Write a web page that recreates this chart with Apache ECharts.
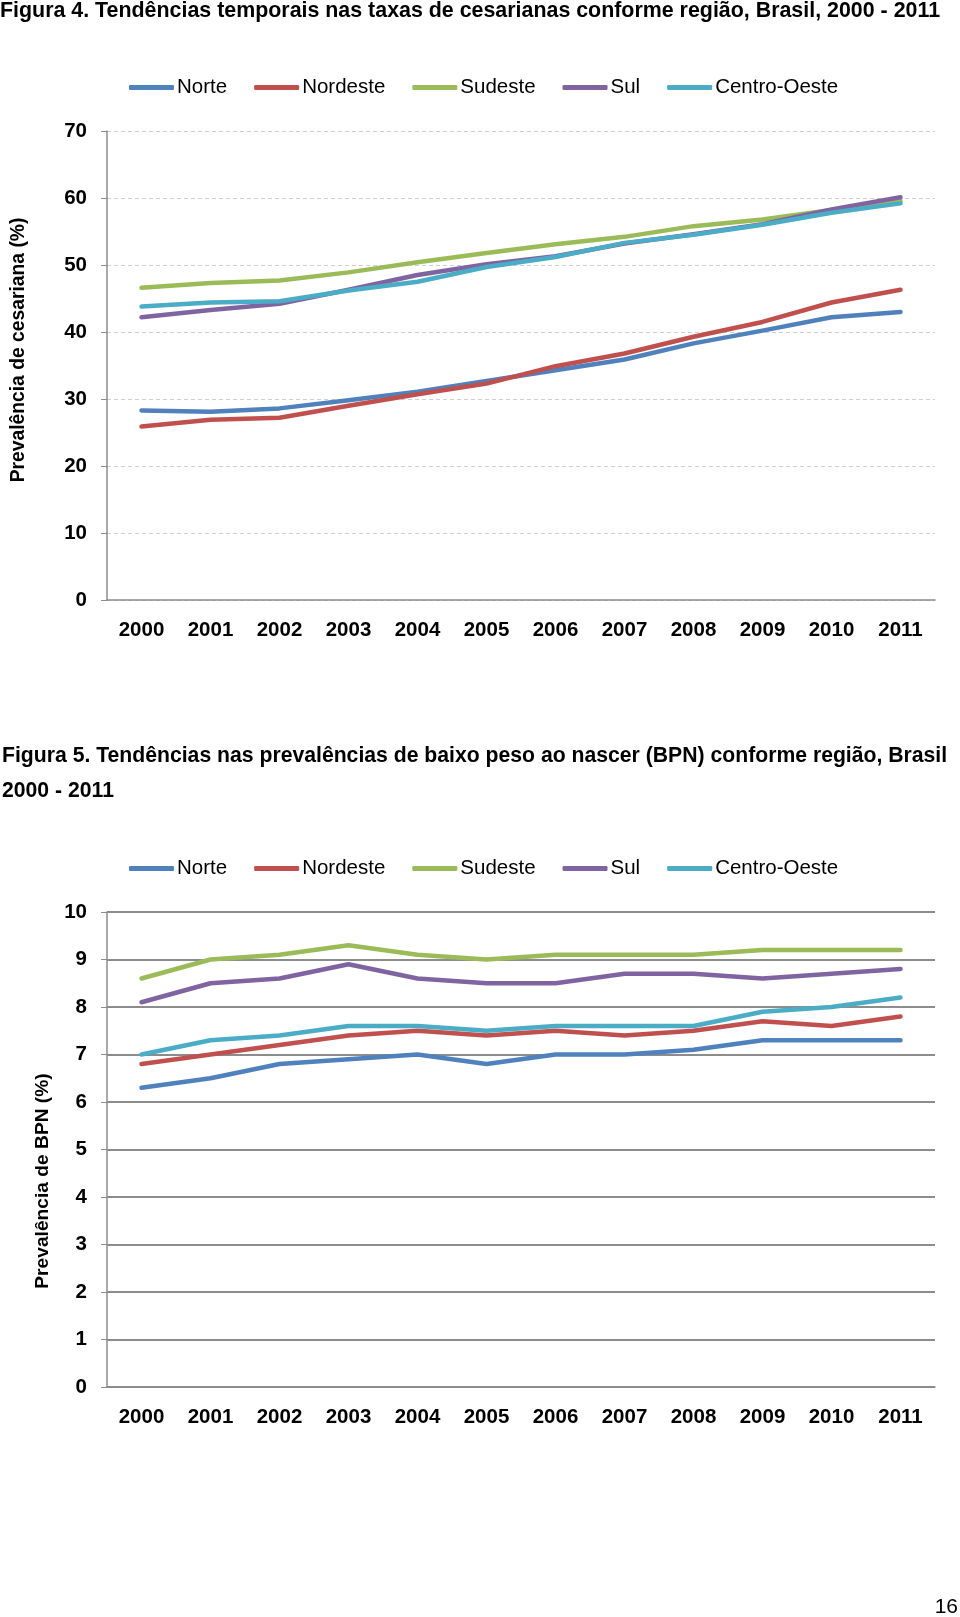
<!DOCTYPE html>
<html>
<head>
<meta charset="utf-8">
<script src="https://cdn.jsdelivr.net/npm/echarts@6/dist/echarts.min.js"></script>
<style>
html,body{margin:0;padding:0;background:#fff;}
#c{width:960px;height:1617px;}
</style>
</head>
<body>
<div id="c"></div>
<script>
// ---- Data ----
const years = ['2000','2001','2002','2003','2004','2005','2006','2007','2008','2009','2010','2011'];
const regions = ['Norte','Nordeste','Sudeste','Sul','Centro-Oeste'];

// Figura 4: cesarean rates (%)
const cesNorte    = [28.3, 28.1, 28.6, 29.8, 31.1, 32.7, 34.3, 35.9, 38.3, 40.2, 42.2, 43.0];
const cesNordeste = [25.9, 26.9, 27.2, 29.0, 30.7, 32.3, 34.9, 36.8, 39.3, 41.5, 44.4, 46.3];
const cesSudeste  = [46.6, 47.3, 47.7, 48.9, 50.4, 51.8, 53.1, 54.2, 55.8, 56.8, 58.2, 59.6];
const cesSul      = [42.2, 43.3, 44.2, 46.3, 48.5, 50.1, 51.3, 53.2, 54.6, 56.1, 58.3, 60.1];
const cesCO       = [43.8, 44.4, 44.6, 46.2, 47.5, 49.7, 51.2, 53.3, 54.5, 56.0, 57.8, 59.2];

// Figura 5: low birth weight prevalence (%)
const bpnNorte    = [6.3, 6.5, 6.8, 6.9, 7.0, 6.8, 7.0, 7.0, 7.1, 7.3, 7.3, 7.3];
const bpnNordeste = [6.8, 7.0, 7.2, 7.4, 7.5, 7.4, 7.5, 7.4, 7.5, 7.7, 7.6, 7.8];
const bpnSudeste  = [8.6, 9.0, 9.1, 9.3, 9.1, 9.0, 9.1, 9.1, 9.1, 9.2, 9.2, 9.2];
const bpnSul      = [8.1, 8.5, 8.6, 8.9, 8.6, 8.5, 8.5, 8.7, 8.7, 8.6, 8.7, 8.8];
const bpnCO       = [7.0, 7.3, 7.4, 7.6, 7.6, 7.5, 7.6, 7.6, 7.6, 7.9, 8.0, 8.2];

const colors = ['#4F81BD','#C0504D','#9BBB59','#8064A2','#4BACC6'];
const title4 = 'Figura 4. Tendências temporais nas taxas de cesarianas conforme região, Brasil, 2000 - 2011';
const title5a = 'Figura 5. Tendências nas prevalências de baixo peso ao nascer (BPN) conforme região, Brasil';
const title5b = '2000 - 2011';
const yName4 = 'Prevalência de cesariana (%)';
const yName5 = 'Prevalência de BPN (%)';

// ---- Chart ----
const FONT = '"Liberation Sans", Arial, sans-serif';
const chart = echarts.init(document.getElementById('c'), null, {renderer:'canvas'});

function mkSeries(name, data, idx, color){
  return {type:'line', name, data, xAxisIndex:idx, yAxisIndex:idx, symbol:'none',
    lineStyle:{width:4.5, color, cap:'round', join:'round'}, itemStyle:{color}, animation:false};
}
const ces = [cesNorte, cesNordeste, cesSudeste, cesSul, cesCO];
const bpn = [bpnNorte, bpnNordeste, bpnSudeste, bpnSul, bpnCO];
const series = [];
regions.forEach((r,i)=>series.push(mkSeries(r, ces[i], 0, colors[i])));
regions.forEach((r,i)=>series.push(mkSeries(r, bpn[i], 1, colors[i])));

function legend(top){
  return {data:regions, left:124, top, icon:'roundRect', itemWidth:45, itemHeight:5, itemGap:27,
    textStyle:{fontFamily:FONT, fontSize:20.5, color:'#000', padding:[0,0,0,-2]}, selectedMode:false};
}
function xAxis(idx){
  return {type:'category', gridIndex:idx, data:years, boundaryGap:true,
    axisLine:{show:true, lineStyle:{color:'#8c8c8c', width:1.5}}, axisTick:{show:false},
    axisLabel:{fontFamily:FONT, fontWeight:'bold', fontSize:20.5, color:'#000', margin:20}};
}
function yAxis(idx, max, dashed){
  return {type:'value', gridIndex:idx, min:0, max, interval:max/ (dashed?7:10),
    axisLine:{show:true, lineStyle:{color:'#8c8c8c', width:1.5}},
    axisTick:{show:true, length:6, lineStyle:{color:'#8c8c8c'}},
    axisLabel:{fontFamily:FONT, fontWeight:'bold', fontSize:20.5, color:'#000', margin:20},
    splitLine:{show:true, lineStyle: dashed ? {color:'#cfcfcf', width:1.2, type:[4,3]} : {color:'#8c8c8c', width:1.8}}};
}

chart.setOption({
  backgroundColor:'#fff',
  animation:false,
  color: colors,
  legend:[legend(72), legend(853)],
  grid:[
    {left:107, right:25, top:131, height:469},
    {left:107, right:25, top:912, height:475}
  ],
  xAxis:[xAxis(0), xAxis(1)],
  yAxis:[yAxis(0,70,true), yAxis(1,10,false)],
  series,
  graphic:[
    {type:'text', x:0, y:11, style:{text:title4, font:'bold 21.4px '+FONT, fill:'#000', verticalAlign:'middle'}},
    {type:'text', x:2, y:756, style:{text:title5a, font:'bold 21.2px '+FONT, fill:'#000', verticalAlign:'middle'}},
    {type:'text', x:2, y:791, style:{text:title5b, font:'bold 21.2px '+FONT, fill:'#000', verticalAlign:'middle'}},
    {type:'text', x:19, y:350, rotation:Math.PI/2, style:{text:yName4, font:'bold 19.3px '+FONT, fill:'#000', align:'center', verticalAlign:'middle'}},
    {type:'text', x:43, y:1181, rotation:Math.PI/2, style:{text:yName5, font:'bold 19.2px '+FONT, fill:'#000', align:'center', verticalAlign:'middle'}},
    {type:'text', x:958, y:1607, style:{text:'16', font:'21px '+FONT, fill:'#000', align:'right', verticalAlign:'middle'}}
  ]
});
</script>
</body>
</html>
